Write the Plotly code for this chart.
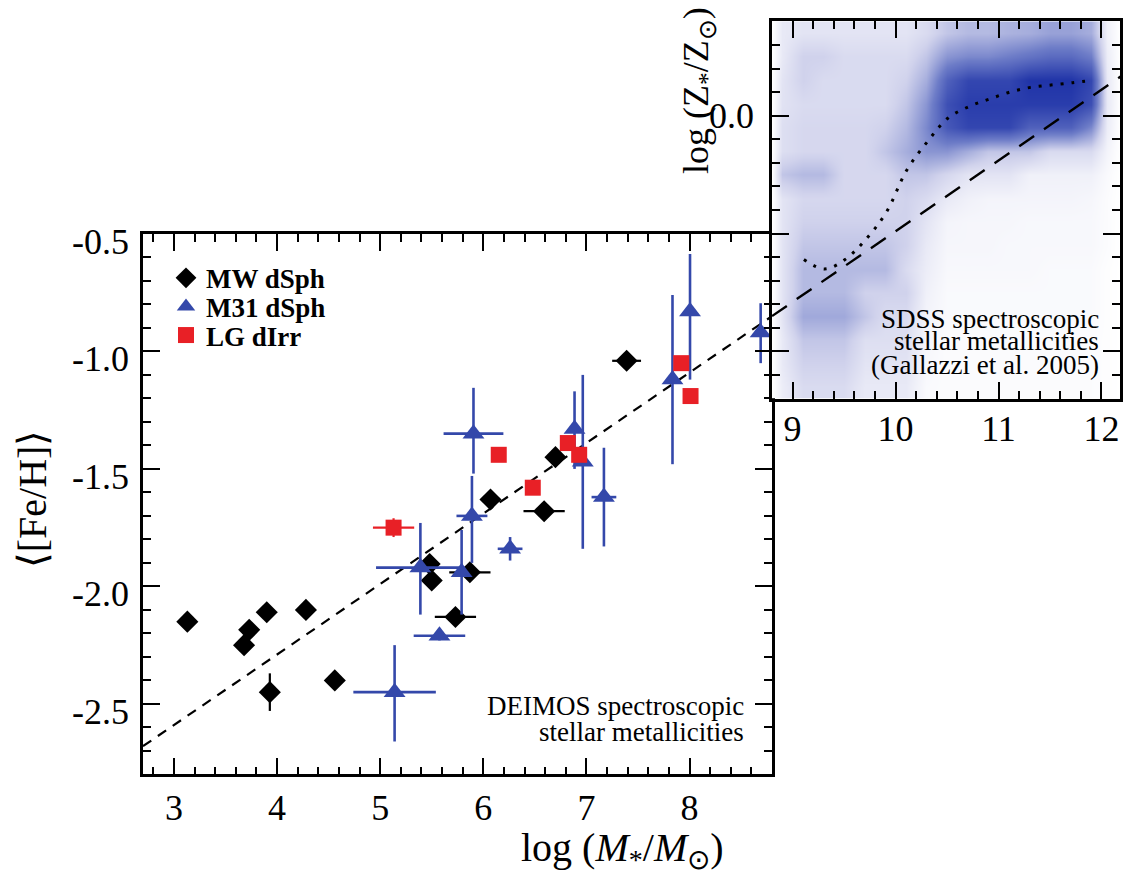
import plotly.graph_objects as go

W, H = 1124, 874

# ---------------- data ----------------
# Milky Way dSph (black diamonds)
mw_x = [3.13, 3.68, 3.73, 3.90, 3.93, 4.28, 4.56, 5.48, 5.50, 5.73, 5.87, 6.07, 6.59, 6.70, 7.39]
mw_y = [-2.15, -2.25, -2.185, -2.11, -2.45, -2.10, -2.40, -1.905, -1.975, -2.13, -1.94, -1.63, -1.68, -1.45, -1.04]
mw_xerr = [0, 0, 0, 0, 0.07, 0, 0, 0, 0, 0.20, 0.20, 0, 0.20, 0, 0.14]
mw_yerr = [0, 0, 0, 0, 0.08, 0, 0, 0, 0, 0, 0, 0, 0, 0, 0]

# M31 dSph (blue triangles)
m31_x = [5.14, 5.39, 5.575, 5.79, 5.89, 5.905, 6.26, 6.885, 6.965, 7.17, 7.835, 8.005, 8.69]
m31_y = [-2.45, -1.92, -2.21, -1.94, -1.70, -1.35, -1.84, -1.33, -1.47, -1.62, -1.12, -0.83, -0.92]
m31_xerr = [0.40, 0.43, 0.25, 0.03, 0.15, 0.29, 0.12, 0.03, 0.03, 0.12, 0.03, 0.03, 0.03]
m31_yerr_up = [0.20, 0.19, 0.02, 0.18, 0.17, 0.195, 0.05, 0.16, 0.37, 0.21, 0.36, 0.245, 0.125]
m31_yerr_dn = [0.21, 0.20, 0.02, 0.18, 0.20, 0.17, 0.05, 0.17, 0.37, 0.21, 0.36, 0.29, 0.13]

# Local Group dIrr (red squares)
lg_x = [5.13, 6.15, 6.48, 6.82, 6.93, 7.92, 8.01]
lg_y = [-1.75, -1.44, -1.58, -1.39, -1.44, -1.05, -1.19]
lg_xerr = [0.20, 0, 0.05, 0, 0, 0, 0]
lg_yerr = [0.04, 0, 0, 0, 0, 0, 0]

# mass-metallicity fit: <[Fe/H]> = a + b * (log M - 6)
fit_a = -1.69
fit_b = 0.30
fit_pivot = 6.0
main_fit_x = [2.7, 8.8]
inset_fit_x = [8.8, 12.2]

# Gallazzi et al. (2005) median relation (dotted)
gal_x = [9.11, 9.31, 9.51, 9.72, 9.91, 10.11, 10.31, 10.51, 10.72, 10.91, 11.11, 11.31, 11.51, 11.72, 11.91]
gal_y = [-0.61, -0.65, -0.61, -0.52, -0.41, -0.23, -0.11, -0.01, 0.04, 0.07, 0.10, 0.12, 0.13, 0.14, 0.15]

# SDSS density map (relative density), rows from low to high log Z
dens_x = [8.8, 8.9, 9.1, 9.3, 9.5, 9.7, 9.9, 10.1, 10.3, 10.5, 10.7, 10.9, 11.1, 11.3, 11.5, 11.7, 11.9, 12.05, 12.18]
dens_y = [-1.15, -1.05, -0.95, -0.85, -0.75, -0.65, -0.55, -0.45, -0.35, -0.25, -0.15, -0.05, 0.05, 0.15, 0.25, 0.35]
dens_z = [
    [0, 0.10, 0.20, 0.20, 0.20, 0.12, 0.12, 0.12, 0.03, 0.02, 0.02, 0.02, 0.02, 0.02, 0.02, 0.02, 0.02, 0.01, 0],
    [0, 0.12, 0.25, 0.25, 0.25, 0.15, 0.15, 0.15, 0.04, 0.02, 0.02, 0.02, 0.02, 0.02, 0.02, 0.02, 0.02, 0.01, 0],
    [0, 0.12, 0.30, 0.30, 0.30, 0.18, 0.18, 0.18, 0.05, 0.02, 0.02, 0.02, 0.02, 0.02, 0.02, 0.02, 0.02, 0.01, 0],
    [0, 0.15, 0.42, 0.42, 0.42, 0.30, 0.20, 0.20, 0.06, 0.03, 0.03, 0.03, 0.03, 0.03, 0.03, 0.03, 0.03, 0.01, 0],
    [0, 0.15, 0.35, 0.35, 0.35, 0.25, 0.25, 0.25, 0.08, 0.03, 0.03, 0.03, 0.03, 0.03, 0.03, 0.03, 0.03, 0.01, 0],
    [0, 0.15, 0.35, 0.35, 0.35, 0.35, 0.35, 0.20, 0.10, 0.04, 0.04, 0.04, 0.04, 0.04, 0.03, 0.03, 0.03, 0.01, 0],
    [0, 0.15, 0.30, 0.30, 0.30, 0.30, 0.30, 0.25, 0.12, 0.05, 0.05, 0.05, 0.04, 0.04, 0.04, 0.04, 0.04, 0.02, 0],
    [0, 0.15, 0.25, 0.25, 0.25, 0.25, 0.25, 0.25, 0.15, 0.06, 0.05, 0.05, 0.05, 0.04, 0.04, 0.04, 0.04, 0.02, 0],
    [0, 0.15, 0.22, 0.22, 0.22, 0.22, 0.22, 0.25, 0.20, 0.12, 0.08, 0.06, 0.06, 0.06, 0.06, 0.06, 0.05, 0.02, 0],
    [0, 0.30, 0.35, 0.35, 0.22, 0.22, 0.22, 0.30, 0.30, 0.22, 0.15, 0.15, 0.15, 0.08, 0.08, 0.08, 0.08, 0.03, 0],
    [0, 0.18, 0.22, 0.22, 0.22, 0.22, 0.30, 0.40, 0.50, 0.50, 0.40, 0.30, 0.30, 0.30, 0.20, 0.20, 0.20, 0.06, 0],
    [0, 0.18, 0.22, 0.22, 0.22, 0.22, 0.25, 0.35, 0.55, 0.80, 0.90, 0.90, 0.90, 0.75, 0.75, 0.75, 0.55, 0.10, 0],
    [0, 0.16, 0.20, 0.20, 0.20, 0.20, 0.20, 0.30, 0.50, 0.85, 0.95, 0.95, 0.95, 0.95, 0.95, 0.95, 0.85, 0.12, 0],
    [0, 0.15, 0.25, 0.20, 0.20, 0.20, 0.20, 0.25, 0.40, 0.75, 0.90, 0.90, 0.90, 1.00, 1.00, 1.00, 0.90, 0.12, 0],
    [0, 0.12, 0.25, 0.25, 0.20, 0.20, 0.20, 0.20, 0.30, 0.50, 0.55, 0.55, 0.60, 0.65, 0.70, 0.70, 0.60, 0.10, 0],
    [0, 0.12, 0.15, 0.15, 0.15, 0.15, 0.15, 0.15, 0.20, 0.30, 0.35, 0.35, 0.38, 0.40, 0.45, 0.45, 0.40, 0.08, 0],
]

main_xticks = [3, 4, 5, 6, 7, 8]
main_yticks = [-2.5, -2.0, -1.5, -1.0, -0.5]
main_yticktext = ["-2.5", "-2.0", "-1.5", "-1.0", "-0.5"]
inset_xticks = [9, 10, 11, 12]
inset_yticks = [-1.0, -0.5, 0.0]
inset_yticktext = ["", "", "0.0"]

# ---------------- styling helpers ----------------
FONT = "Liberation Serif, Times New Roman, serif"
BLUE = "rgb(52,72,170)"
RED = "rgb(232,32,38)"


def px_x(p):
    return p / W


def px_y(p):
    return 1 - p / H


fig = go.Figure()

# main-panel fit line
fig.add_trace(go.Scatter(
    x=main_fit_x, y=[fit_a + fit_b * (v - fit_pivot) for v in main_fit_x],
    mode="lines", line=dict(color="black", width=2.2, dash="10px,8px"),
    showlegend=False, hoverinfo="skip", xaxis="x", yaxis="y"))

fig.add_trace(go.Scatter(
    x=mw_x, y=mw_y, mode="markers", name="MW dSph", legend="legend",
    marker=dict(symbol="diamond", size=17, color="black"),
    error_x=dict(type="data", array=mw_xerr, color="black", thickness=2.2, width=0),
    error_y=dict(type="data", array=mw_yerr, color="black", thickness=2.2, width=0),
    xaxis="x", yaxis="y"))

fig.add_trace(go.Scatter(
    x=m31_x, y=m31_y, mode="markers", name="M31 dSph", legend="legend2",
    marker=dict(symbol="triangle-up", size=19, color=BLUE),
    error_x=dict(type="data", array=m31_xerr, color=BLUE, thickness=2.6, width=0),
    error_y=dict(type="data", array=m31_yerr_up, arrayminus=m31_yerr_dn, symmetric=False,
                 color=BLUE, thickness=2.6, width=0),
    xaxis="x", yaxis="y"))

fig.add_trace(go.Scatter(
    x=lg_x, y=lg_y, mode="markers", name="LG dIrr", legend="legend3",
    marker=dict(symbol="square", size=16, color=RED),
    error_x=dict(type="data", array=lg_xerr, color=RED, thickness=2.2, width=0),
    error_y=dict(type="data", array=lg_yerr, color=RED, thickness=2.2, width=0),
    xaxis="x", yaxis="y"))

# inset: SDSS density
fig.add_trace(go.Heatmap(
    x=dens_x, y=dens_y, z=dens_z, zmin=0, zmax=1, zsmooth="best",
    colorscale=[[0, "rgb(255,255,255)"], [0.25, "rgb(208,210,236)"],
                [0.6, "rgb(110,125,200)"], [1, "rgb(32,52,168)"]],
    showscale=False, hoverinfo="skip", xaxis="x2", yaxis="y2"))

fig.add_trace(go.Scatter(
    x=inset_fit_x, y=[fit_a + fit_b * (v - fit_pivot) for v in inset_fit_x],
    mode="lines", line=dict(color="black", width=2.4, dash="18px,12px"),
    showlegend=False, hoverinfo="skip", xaxis="x2", yaxis="y2"))

fig.add_trace(go.Scatter(
    x=gal_x, y=gal_y, mode="lines", line=dict(color="black", width=3, dash="3px,8px", shape="spline"),
    showlegend=False, hoverinfo="skip", xaxis="x2", yaxis="y2"))

tickfont = dict(family=FONT, size=36, color="black")
common = dict(showline=True, linecolor="black", linewidth=2.5, mirror="ticks",
              ticks="inside", ticklen=17, tickwidth=2, tickcolor="black",
              showgrid=False, zeroline=False, tickfont=tickfont)

main_x0, main_x1, main_top, main_bot = 143, 772, 225, 773
ins_x0, ins_x1, ins_top, ins_bot = 772, 1120, 9.5, 392


def legend_at(ypix):
    return dict(x=px_x(166), y=px_y(ypix), xanchor="left", yanchor="middle",
                bgcolor="rgba(0,0,0,0)", borderwidth=0,
                font=dict(family=FONT, size=27, color="black", weight=700),
                itemsizing="trace")


def minor_ticks(step):
    return dict(ticks="inside", ticklen=8, tickwidth=2, tickcolor="black",
                tickmode="linear", tick0=0, dtick=step, showgrid=False)


fig.update_layout(
    width=W, height=H,
    margin=dict(l=0, r=0, t=0, b=0),
    paper_bgcolor="white", plot_bgcolor="rgba(0,0,0,0)",
    font=dict(family=FONT, color="black"),
    xaxis=dict(domain=[px_x(main_x0), px_x(main_x1)], range=[2.7, 8.8], anchor="y",
               tickvals=main_xticks, ticklabelstandoff=0, minor=minor_ticks(0.2), **common),
    yaxis=dict(domain=[px_y(main_bot), px_y(main_top)], range=[-2.8, -0.5], anchor="x",
               tickvals=main_yticks, ticktext=main_yticktext, ticklabelstandoff=4,
               ticklabelshift=7, minor=minor_ticks(0.1), **common),
    xaxis2=dict(domain=[px_x(ins_x0), px_x(ins_x1)], range=[8.8, 12.18], anchor="y2",
                tickvals=inset_xticks, ticklabelstandoff=-4, minor=minor_ticks(0.2), **common),
    yaxis2=dict(domain=[px_y(ins_bot), px_y(ins_top)], range=[-1.2, 0.4], anchor="x2",
                tickvals=inset_yticks, ticktext=inset_yticktext, ticklabelstandoff=8,
                minor=minor_ticks(0.1), **common),
    legend=legend_at(270),
    legend2=legend_at(299),
    legend3=legend_at(328),
    showlegend=True,
)

ann = [
    dict(text="⟨[Fe/H]⟩", x=px_x(32), y=px_y(494), textangle=-90, size=40, xa="center"),
    dict(text="log (<i>M</i><sub>*</sub>/<i>M</i><sub>⊙</sub>)", x=px_x(622), y=px_y(850), size=40, xa="center"),
    dict(text="log (Z<sub>*</sub>/Z<sub>⊙</sub>)", x=px_x(699), y=px_y(80), textangle=-90, size=36, xa="center"),
    dict(text="DEIMOS spectroscopic", x=px_x(746), y=px_y(704), size=27, xa="right"),
    dict(text="stellar metallicities", x=px_x(746), y=px_y(730), size=27, xa="right"),
    dict(text="SDSS spectroscopic", x=px_x(1101), y=px_y(311), size=27, xa="right"),
    dict(text="stellar metallicities", x=px_x(1101), y=px_y(334), size=27, xa="right"),
    dict(text="(Gallazzi et al. 2005)", x=px_x(1101), y=px_y(358), size=27, xa="right"),
]
for a in ann:
    fig.add_annotation(text=a["text"], x=a["x"], y=a["y"], xref="paper", yref="paper",
                       xanchor=a["xa"], yanchor="middle", showarrow=False,
                       textangle=a.get("textangle", 0),
                       font=dict(family=FONT, size=a["size"], color="black"))

fig.write_html("out.html", config={"displayModeBar": False},
               post_script="document.body.style.margin='0px';document.body.style.overflow='hidden';")
